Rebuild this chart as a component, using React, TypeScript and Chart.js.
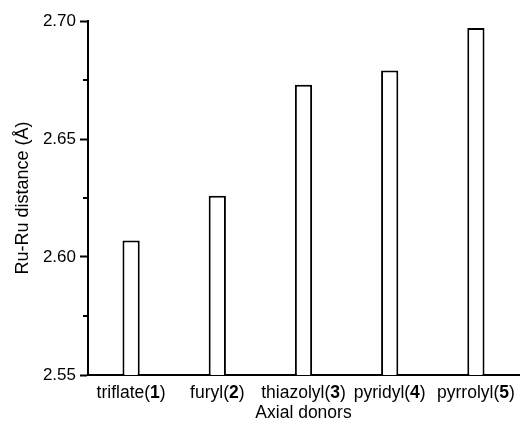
import React, { useEffect, useRef } from "react";
import { Chart, registerables } from "chart.js";
Chart.register(...registerables);

const categories = ["triflate", "furyl", "thiazolyl", "pyridyl", "pyrrolyl"];
const compoundNumbers = ["1", "2", "3", "4", "5"];
const distances = [2.607, 2.626, 2.673, 2.679, 2.697];
const yMin = 2.55;
const yMax = 2.7;
const majorStep = 0.05;
const minorTicks = [2.575, 2.625, 2.675];
const yTitle = "Ru-Ru distance (Å)";
const xTitle = "Axial donors";

const FONT = "'Liberation Sans', Arial, sans-serif";

const customLabels = {
  id: "customLabels",
  afterDraw(chart: any) {
    const ctx = chart.ctx;
    const xs = chart.scales.x;
    const ys = chart.scales.y;
    ctx.save();
    // minor y ticks
    ctx.strokeStyle = "#000";
    ctx.lineWidth = 2;
    minorTicks.forEach((v) => {
      const y = ys.getPixelForValue(v);
      ctx.beginPath();
      ctx.moveTo(chart.chartArea.left - 5, y);
      ctx.lineTo(chart.chartArea.left, y);
      ctx.stroke();
    });
    // x category labels with bold numbers
    ctx.fillStyle = "#000";
    ctx.textBaseline = "middle";
    ctx.textAlign = "left";
    const normal = `17.5px ${FONT}`;
    const bold = `bold 17.5px ${FONT}`;
    const ly = xs.top + 18;
    categories.forEach((name, i) => {
      const cx = xs.getPixelForValue(i);
      const parts: [string, string][] = [
        [name + "(", normal],
        [compoundNumbers[i], bold],
        [")", normal],
      ];
      let total = 0;
      parts.forEach(([t, f]) => {
        ctx.font = f;
        total += ctx.measureText(t).width;
      });
      let x = cx - total / 2;
      parts.forEach(([t, f]) => {
        ctx.font = f;
        ctx.fillText(t, x, ly);
        x += ctx.measureText(t).width;
      });
    });
    // x title
    ctx.font = normal;
    ctx.textAlign = "center";
    ctx.fillText(xTitle, (xs.left + xs.right) / 2, xs.top + 38);
    ctx.restore();
  },
};

export default function App() {
  const ref = useRef<HTMLCanvasElement | null>(null);
  useEffect(() => {
    if (!ref.current) return;
    const chart = new Chart(ref.current, {
      type: "bar",
      data: {
        labels: categories.map((c, i) => `${c}(${compoundNumbers[i]})`),
        datasets: [
          {
            data: distances,
            backgroundColor: "#ffffff",
            borderColor: "#000000",
            borderWidth: 2,
            borderSkipped: false,
            barPercentage: 0.2,
            categoryPercentage: 1,
          },
        ],
      },
      options: {
        animation: false,
        responsive: true,
        maintainAspectRatio: false,
        layout: { padding: { top: 21, right: 10, bottom: 0, left: 0 } },
        plugins: { legend: { display: false }, tooltip: { enabled: false } },
        scales: {
          x: {
            offset: true,
            grid: { display: false, drawTicks: false },
            border: { display: true, color: "#000", width: 2 },
            ticks: { display: false },
            afterFit: (s: any) => {
              s.height = 46;
            },
          },
          y: {
            min: yMin,
            max: yMax,
            grid: {
              drawOnChartArea: false,
              drawTicks: true,
              tickLength: 8,
              tickWidth: 2,
              tickColor: "#000",
            },
            border: { display: true, color: "#000", width: 2 },
            ticks: {
              stepSize: majorStep,
              padding: 4,
              color: "#000",
              font: { family: FONT, size: 17 },
              callback: (v: any) => Number(v).toFixed(2),
            },
            title: {
              display: true,
              text: yTitle,
              color: "#000",
              font: { family: FONT, size: 18 },
              padding: { top: 12, bottom: 0 },
            },
            afterFit: (s: any) => {
              s.width = 88;
            },
          },
        },
      },
      plugins: [customLabels],
    });
    return () => chart.destroy();
  }, []);
  return (
    <div style={{ position: "fixed", left: 0, top: 0, width: 529, height: 421, background: "#fff" }}>
      <canvas ref={ref} />
    </div>
  );
}
